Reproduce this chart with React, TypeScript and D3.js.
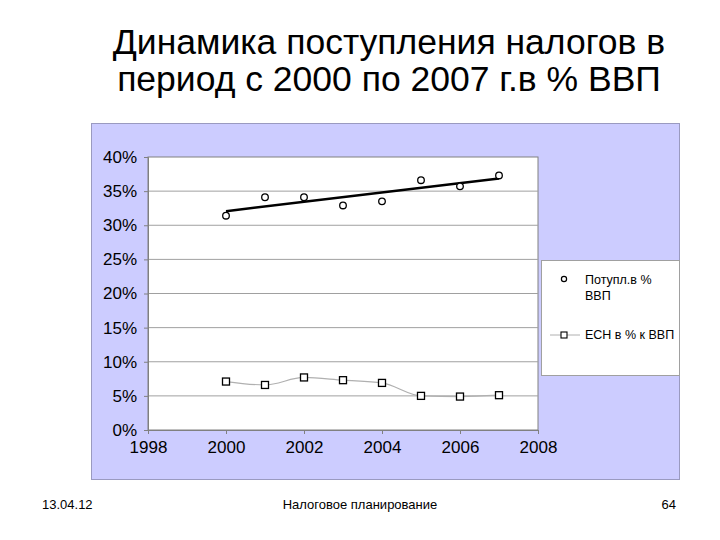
import React, { useEffect, useRef } from 'react';
import * as d3 from 'd3';

const years = [2000, 2001, 2002, 2003, 2004, 2005, 2006, 2007];
const taxShare = [31.4, 34.1, 34.1, 32.9, 33.5, 36.6, 35.7, 37.3];
const esnShare = [7.1, 6.6, 7.7, 7.3, 6.9, 5.0, 4.9, 5.1];
const yTicks = [0, 5, 10, 15, 20, 25, 30, 35, 40];
const xTicks = [1998, 2000, 2002, 2004, 2006, 2008];
const titleLines = ['Динамика поступления налогов в', 'период с 2000 по 2007 г.в % ВВП'];
const legendLabels = [['Потупл.в %', 'ВВП'], ['ЕСН в % к ВВП']];

const App = () => {
  const ref = useRef<SVGSVGElement>(null);

  useEffect(() => {
    const svg = d3.select(ref.current);
    svg.selectAll('*').remove();
    const font = 'Liberation Sans, Arial, sans-serif';

    // title
    svg.append('g').selectAll('text')
      .data(titleLines)
      .enter()
      .append('text')
      .attr('x', 389)
      .attr('y', (d, i) => 54 + i * 37)
      .attr('text-anchor', 'middle')
      .attr('font-family', font)
      .attr('font-size', 35.5)
      .attr('fill', '#000')
      .text(d => d);

    // chart box
    svg.append('rect')
      .attr('x', 91.5).attr('y', 123.5)
      .attr('width', 588).attr('height', 356)
      .attr('fill', '#ccccff')
      .attr('stroke', '#9a9ac0');

    const x = d3.scaleLinear().domain([1998, 2008]).range([148, 538]);
    const y = d3.scaleLinear().domain([0, 40]).range([430, 157]);

    svg.append('rect')
      .attr('x', 148).attr('y', 157)
      .attr('width', 390).attr('height', 273)
      .attr('fill', '#fff')
      .attr('stroke', '#808080');

    // gridlines
    svg.append('g').selectAll('line')
      .data(yTicks.slice(1, -1))
      .enter()
      .append('line')
      .attr('x1', 148).attr('x2', 538)
      .attr('y1', d => y(d)).attr('y2', d => y(d))
      .attr('stroke', '#a0a0a0');

    const yAxis = svg.append('g')
      .attr('transform', 'translate(148,0)')
      .call(d3.axisLeft(y).tickValues(yTicks).tickSize(4).tickFormat(d => `${d}%`));
    yAxis.select('.domain').attr('stroke', '#808080');
    yAxis.selectAll('line').attr('stroke', '#808080');
    yAxis.selectAll('text')
      .attr('font-family', font).attr('font-size', 17).attr('fill', '#000')
      .attr('x', -11);

    const xAxis = svg.append('g')
      .attr('transform', 'translate(0,430)')
      .call(d3.axisBottom(x).tickValues(xTicks).tickSize(4).tickFormat(d => `${d}`));
    xAxis.select('.domain').attr('stroke', '#808080');
    xAxis.selectAll('line').attr('stroke', '#808080');
    xAxis.selectAll('text')
      .attr('font-family', font).attr('font-size', 17).attr('fill', '#000')
      .attr('y', 11);

    // trend line (least squares)
    const mx = d3.mean(years)!;
    const my = d3.mean(taxShare)!;
    const slope = d3.sum(years, (v, i) => (v - mx) * (taxShare[i] - my)) / d3.sum(years, v => (v - mx) ** 2);
    const trend = (v: number) => my + slope * (v - mx);
    svg.append('line')
      .attr('x1', x(years[0])).attr('y1', y(trend(years[0])))
      .attr('x2', x(years[years.length - 1])).attr('y2', y(trend(years[years.length - 1])))
      .attr('stroke', '#000').attr('stroke-width', 2.5);

    // ESN line
    const line = d3.line<number>()
      .x((d, i) => x(years[i]))
      .y(d => y(d))
      .curve(d3.curveMonotoneX);
    svg.append('path')
      .attr('d', line(esnShare))
      .attr('fill', 'none')
      .attr('stroke', '#b0b0b0')
      .attr('stroke-width', 1.2);

    svg.append('g').selectAll('rect')
      .data(esnShare)
      .enter()
      .append('rect')
      .attr('x', (d, i) => x(years[i]) - 3.5)
      .attr('y', d => y(d) - 3.5)
      .attr('width', 7).attr('height', 7)
      .attr('fill', '#fff').attr('stroke', '#000').attr('stroke-width', 1.3);

    svg.append('g').selectAll('circle')
      .data(taxShare)
      .enter()
      .append('circle')
      .attr('cx', (d, i) => x(years[i]))
      .attr('cy', d => y(d))
      .attr('r', 3.3)
      .attr('fill', '#fff').attr('stroke', '#000').attr('stroke-width', 1.3);

    // legend
    const lg = svg.append('g');
    lg.append('rect')
      .attr('x', 541.5).attr('y', 260.5)
      .attr('width', 138).attr('height', 115)
      .attr('fill', '#fff').attr('stroke', '#a0a0a0');
    lg.append('circle')
      .attr('cx', 564).attr('cy', 279).attr('r', 2.6)
      .attr('fill', '#fff').attr('stroke', '#000').attr('stroke-width', 1.2);
    lg.append('line')
      .attr('x1', 550).attr('x2', 580).attr('y1', 335).attr('y2', 335)
      .attr('stroke', '#b0b0b0');
    lg.append('rect')
      .attr('x', 561).attr('y', 332).attr('width', 6).attr('height', 6)
      .attr('fill', '#fff').attr('stroke', '#000').attr('stroke-width', 1.1);
    lg.selectAll('text.l0')
      .data(legendLabels[0])
      .enter()
      .append('text')
      .attr('x', 585).attr('y', (d, i) => 284 + i * 16)
      .attr('font-family', font).attr('font-size', 12.5).attr('fill', '#000')
      .text(d => d);
    lg.append('text')
      .attr('x', 585).attr('y', 339)
      .attr('font-family', font).attr('font-size', 12.5).attr('fill', '#000')
      .text(legendLabels[1][0]);

    // footer
    const foot = svg.append('g')
      .attr('font-family', font).attr('font-size', 13).attr('fill', '#000');
    foot.append('text').attr('x', 42).attr('y', 509).text('13.04.12');
    foot.append('text').attr('x', 360).attr('y', 509).attr('text-anchor', 'middle').text('Налоговое планирование');
    foot.append('text').attr('x', 676).attr('y', 509).attr('text-anchor', 'end').text('64');
  }, []);

  return (
    <svg ref={ref} width={720} height={540}
      style={{ position: 'absolute', left: 0, top: 0, background: '#fff' }} />
  );
};

export default App;
